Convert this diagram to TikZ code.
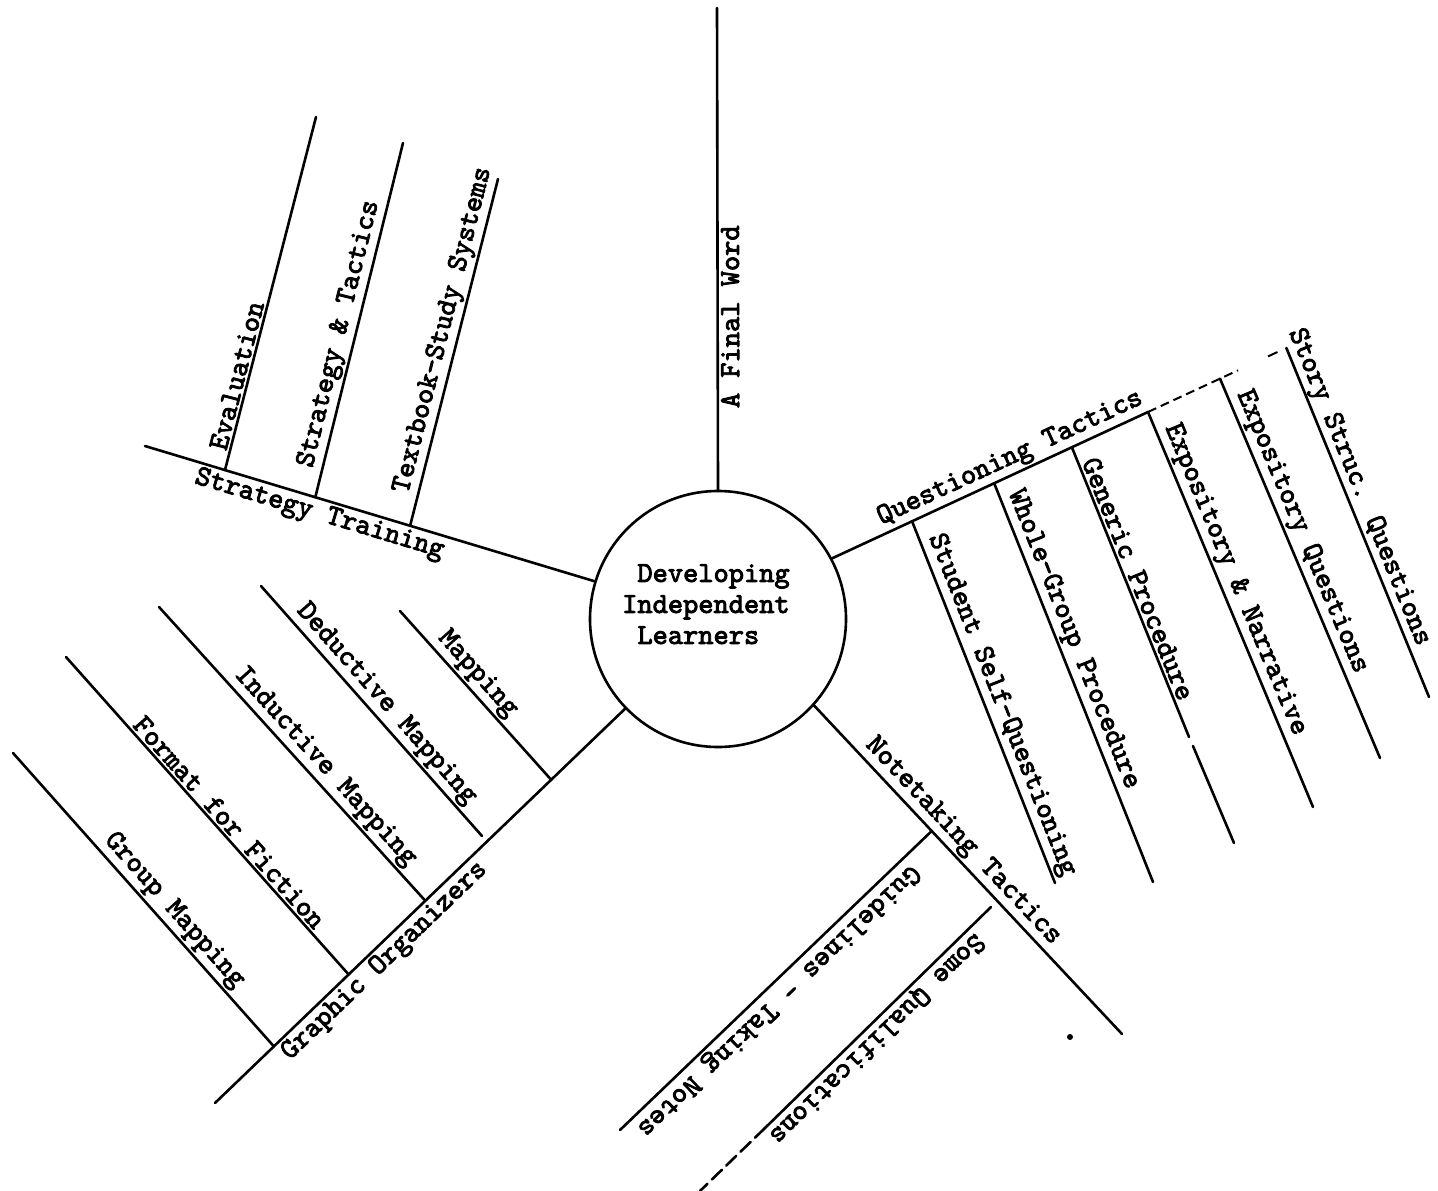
\documentclass[tikz,border=0pt]{standalone}
\usepackage{fontspec}
\newfontfamily\tw{lmmono10-regular.otf}[FakeBold=3]
\usetikzlibrary{calc}
\begin{document}
\begin{tikzpicture}[x=1pt,y=-1pt,
  branch/.style={line width=2.6pt, line cap=round},
  lab/.style={font=\tw\fontsize{29}{31}\selectfont, sloped, allow upside down, inner sep=2pt},
  title/.style={font=\tw\fontsize{29}{31}\selectfont, align=left, inner sep=0pt},
]
\fill[white] (0,0) rectangle (1438,1191);
\useasboundingbox (0,0) rectangle (1438,1191);

% centre
\node[draw, circle, line width=2.6pt, minimum size=256pt, inner sep=0pt] (c) at (718,619) {};
\node[title, anchor=north west] (ctext) at (622,564) {\hphantom{I}Developing\\Independent\\\hphantom{I}Learners};

% A Final Word
\coordinate (f1) at (717,8);
\draw[branch] (c.north) -- (f1) node[lab, pos=0.359, anchor=north] (lfinal) {A Final Word};

% Strategy Training
\coordinate (s0) at (145,446);
\coordinate (s1) at (c.163.3);
\draw[branch] (s0) -- (s1) node[lab, pos=0.398, anchor=north] (lstrat) {Strategy Training};
\coordinate (e0) at ($(s0)!0.178!(s1)$);
\coordinate (e1) at (316,117);
\coordinate (t0) at ($(s0)!0.379!(s1)$);
\coordinate (t1) at (403,143);
\coordinate (x0) at ($(s0)!0.590!(s1)$);
\coordinate (x1) at (498,179);
\draw[branch] (e0) -- (e1) node[lab, pos=0.259, anchor=south] (leval) {Evaluation};
\draw[branch] (t0) -- (t1) node[lab, pos=0.45, anchor=south] (ltact) {Strategy \& Tactics};
\draw[branch] (x0) -- (x1) node[lab, pos=0.553, anchor=south] (ltext) {Textbook-Study Systems};

% Questioning Tactics
\coordinate (q0) at (c.28.2);
\coordinate (q1) at (1148,412);
\draw[branch] (q0) -- (q1) node[lab, pos=0.585, anchor=south] (lquest) {Questioning Tactics};
\coordinate (q2) at ($(q0)!1.285!(q1)$);
\coordinate (q3) at ($(q0)!1.38!(q1)$);
\coordinate (q4) at ($(q0)!1.41!(q1)$);
\draw[line width=2pt, dash pattern=on 9pt off 5pt] (q1) -- (q2);
\draw[line width=2pt] (q3) -- (q4);
\coordinate (sq0) at ($(q0)!0.253!(q1)$);
\coordinate (w0)  at ($(q0)!0.513!(q1)$);
\coordinate (g0)  at ($(q0)!0.759!(q1)$);
\coordinate (eq0) at ($(q0)!1.228!(q1)$);
\coordinate (ss0) at ($(q0)!1.438!(q1)$);
\coordinate (sq1) at (1055,883);
\coordinate (w1)  at (1153,882);
\coordinate (ga)  at (1189,737);
\coordinate (gb)  at (1193,746);
\coordinate (g1)  at (1234,843);
\coordinate (en1) at (1313,807);
\coordinate (eq1) at (1380,758);
\coordinate (ss1) at (1429,697);
\draw[branch] (sq0) -- (sq1) node[lab, pos=0.524, anchor=south] (lsq) {Student Self-Questioning};
\draw[branch] (w0) -- (w1) node[lab, pos=0.406, anchor=south] (lwg) {Whole-Group Procedure};
\draw[branch] (g0) -- (ga) node[lab, pos=0.47, anchor=south] (lgen) {Generic Procedure};
\draw[branch] (gb) -- (g1);
\draw[branch] (q1) -- (en1) node[lab, pos=0.44, anchor=south] (len) {Expository \& Narrative};
\draw[branch] (eq0) -- (eq1) node[lab, pos=0.42, anchor=south] (leq) {Expository Questions};
\draw[branch] (ss0) -- (ss1) node[lab, pos=0.415, anchor=south, inner sep=0.5pt] (lss) {Story Struc. Questions};

% Notetaking Tactics
\coordinate (n0) at (c.-42.8);
\coordinate (n1) at (1122,1034);
\draw[branch] (n0) -- (n1) node[lab, pos=0.446, anchor=south] (lnote) {Notetaking Tactics};
\coordinate (gl0) at ($(n0)!0.382!(n1)$);
\coordinate (gl1) at (620,1130);
\draw[branch] (gl0) -- (gl1) node[lab, pos=0.528, anchor=south] (lguide) {Guidelines - Taking Notes};
\coordinate (sm0) at (991,907);
\coordinate (sm1) at (765,1128);
\coordinate (sm2) at (700,1191);
\draw[branch] (sm0) -- (sm1) node[lab, pos=0.55, anchor=south] (lsome) {Some Qualifications};
\draw[branch, dash pattern=on 14pt off 6pt] (sm1) -- (sm2);
\node[circle, fill=black, inner sep=0pt, minimum size=6pt] (dot) at (1070,1037) {};

% Graphic Organizers
\coordinate (go0) at (215,1103);
\coordinate (go1) at (c.224.7);
\draw[branch] (go0) -- (go1) node[lab, pos=0.388, anchor=north] (lgo) {Graphic Organizers};
\coordinate (gm0) at ($(go0)!0.1436!(go1)$);
\coordinate (fm0) at ($(go0)!0.326!(go1)$);
\coordinate (im0) at ($(go0)!0.513!(go1)$);
\coordinate (mp0) at ($(go0)!0.82!(go1)$);
\coordinate (dm0) at (482,836);
\coordinate (gm1) at (13,753);
\coordinate (fm1) at (66,657);
\coordinate (im1) at (159,607);
\coordinate (dm1) at (261,586);
\coordinate (mp1) at (400,611);
\draw[branch] (mp1) -- (mp0) node[lab, pos=0.436, anchor=south] (lmap) {Mapping};
\draw[branch] (dm1) -- (dm0) node[lab, pos=0.514, anchor=south] (lded) {Deductive Mapping};
\draw[branch] (im1) -- (im0) node[lab, pos=0.58, anchor=south] (lind) {Inductive Mapping};
\draw[branch] (fm1) -- (fm0) node[lab, pos=0.546, anchor=south] (lfmt) {Format for Fiction};
\draw[branch] (gm1) -- (gm0) node[lab, pos=0.573, anchor=south] (lgrp) {Group Mapping};
\end{tikzpicture}
\end{document}
